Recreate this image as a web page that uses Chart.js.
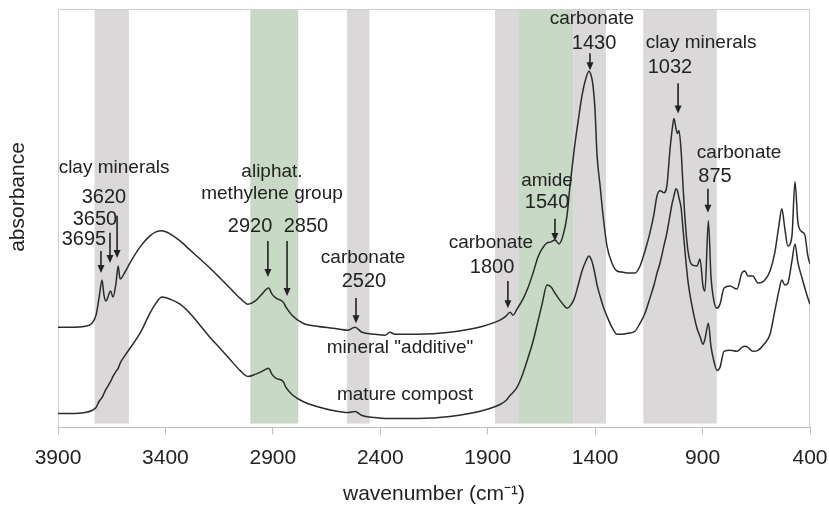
<!DOCTYPE html>
<html lang="en">
<head>
  <meta charset="UTF-8">
  <title>FTIR spectra – mineral additive vs. mature compost</title>
  <script src="https://cdn.jsdelivr.net/npm/chart.js"></script>
  <style>
    body { margin: 0; background: #fff; }
    #wrap { width: 829px; height: 507px; }
  </style>
</head>
<body>
  <div id="wrap"><canvas id="spectra" width="829" height="507"></canvas></div>

  <script>
    // wavenumbers (cm-1) shared by both spectra
    const wavenumber = [3900, 3844, 3774, 3742, 3723, 3709, 3695, 3686, 3677, 3655, 3644, 3630, 3620, 3611, 3588, 3565,
      3518, 3472, 3444, 3416, 3379, 3332, 3286, 3239, 3193, 3146, 3100, 3053, 3016, 2983, 2951, 2920, 2904, 2885,
      2852, 2839, 2811, 2760, 2695, 2620, 2550, 2518, 2485, 2425, 2378, 2355, 2332, 2229, 2076, 1922, 1843, 1815,
      1796, 1782, 1764, 1736, 1713, 1689, 1666, 1647, 1624, 1605, 1587, 1568, 1550, 1531, 1517, 1498, 1480, 1461,
      1443, 1429, 1419, 1410, 1401, 1391, 1377, 1363, 1345, 1322, 1298, 1275, 1247, 1215, 1191, 1168, 1145, 1126,
      1112, 1098, 1080, 1066, 1052, 1042, 1033, 1024, 1017, 1010, 1000, 991, 982, 968, 949, 926, 912, 898, 889,
      873, 861, 847, 833, 819, 800, 772, 740, 717, 703, 689, 666, 642, 614, 586, 564, 545, 531, 517, 503, 484,
      470, 456, 437, 424, 410, 400];

    // mineral "additive" (upper trace), arbitrary absorbance units with offset
    const additive = [96, 96, 97, 100, 108, 125, 143, 128, 122, 132, 126, 140, 157, 144, 151, 160,
      176, 187, 191, 192, 189, 182, 173, 164, 155, 145, 135, 125, 119, 122, 129, 135, 129, 125,
      121, 116, 108, 100, 97, 95, 93, 96, 91, 89, 88, 91, 89, 89, 91, 97, 103, 107,
      111, 108, 114, 124, 135, 150, 166, 174, 180, 181, 183, 179, 187, 207, 237, 272, 300, 327,
      344, 351, 347, 337, 314, 267, 237, 207, 177, 160, 152, 151, 150, 150, 157, 172, 190, 209,
      227, 232, 230, 237, 272, 292, 304, 294, 289, 292, 272, 237, 205, 172, 158, 157, 164, 137, 132,
      202, 147, 122, 115, 119, 135, 137, 134, 150, 152, 147, 147, 140, 142, 152, 170, 197, 214, 194, 177, 187,
      241, 200, 191, 188, 167, 159];

    // mature compost (lower trace)
    const compost = [10, 10, 11, 13, 16, 22, 26, 30, 34, 42, 47, 52, 55, 60, 68, 75,
      90, 110, 120, 126, 124, 119, 110, 98, 86, 75, 64, 53, 47, 49, 52, 55, 49, 45,
      42, 36, 29, 22, 17, 13, 11, 12, 8, 6, 5, 5, 5, 5, 7, 13, 19, 23,
      28, 31, 36, 50, 65, 82, 102, 119, 138, 136, 130, 124, 119, 115, 117, 124, 137, 152,
      162, 167, 164, 158, 149, 138, 127, 117, 107, 96, 89, 89, 90, 92, 100, 110, 125, 138,
      150, 160, 177, 190, 207, 219, 227, 234, 232, 225, 215, 194, 172, 142, 117, 95, 87, 79, 84,
      100, 77, 62, 53, 56, 72, 73, 72, 76, 77, 76, 72, 73, 79, 89, 112, 132, 143, 138, 140, 162,
      179, 160, 145, 135, 125, 119];

    const xTicks = [3900, 3400, 2900, 2400, 1900, 1400, 900, 400];

    // highlighted absorption regions [from, to] in cm-1
    const grayBands = [[3730, 3570], [2555, 2450], [1866, 1758], [1502, 1350], [1176, 834]];
    const greenBands = [[3005, 2782], [1758, 1502]];

    // peak markers: wavenumber, arrow from/to (absorbance units)
    const arrows = [
      [3700, 172, 150], [3658, 190, 160], [3625, 207, 165],
      [2923, 182, 146], [2834, 182, 127], [2513, 125, 100],
      [1806, 142, 115], [1587, 204, 182], [1424, 369, 352],
      [1014, 339, 309], [875, 234, 210]
    ];

    // text labels: text, wavenumber, absorbance, is number
    const labels = [
      ['clay minerals', 3639, 255, false], ['3620', 3686, 225, true], ['3650', 3728, 203, true], ['3695', 3779, 183, true],
      ['aliphat.', 2904, 251, false], ['methylene group', 2904, 229, false],
      ['2920', 3006, 196, true], ['2850', 2746, 196, true],
      ['carbonate', 2480, 165, false], ['2520', 2476, 142, true],
      ['mineral "additive"', 2308, 76, false], ['mature compost', 2285, 29, false],
      ['carbonate', 1885, 180, false], ['1800', 1880, 156, true],
      ['amide', 1624, 242, false], ['1540', 1624, 220, true],
      ['carbonate', 1415, 403, false], ['1430', 1405, 379, true],
      ['clay minerals', 907, 379, false], ['1032', 1052, 355, true],
      ['carbonate', 730, 270, false], ['875', 842, 246, true]
    ];

    const FONT = '"Liberation Sans", Arial, sans-serif';
    const INK = '#222';

    const toPoints = arr => wavenumber.map((w, i) => ({ x: w, y: arr[i] }));

    // shaded bands + frame behind the spectra, labels and arrows on top
    const decorations = {
      id: 'decorations',
      beforeDatasetsDraw(chart) {
        const { ctx, chartArea: a, scales: { x, y } } = chart;
        ctx.save();
        const band = ([from, to], color) => {
          const x1 = x.getPixelForValue(from), x2 = x.getPixelForValue(to);
          const yb = y.getPixelForValue(0);
          ctx.fillStyle = color;
          ctx.fillRect(x1, a.top, x2 - x1, yb - a.top);
        };
        grayBands.forEach(b => band(b, '#dbd8da'));
        greenBands.forEach(b => band(b, '#c8d9c5'));
        ctx.strokeStyle = '#cfcfcf';
        ctx.lineWidth = 1;
        ctx.beginPath();
        ctx.moveTo(a.left + 0.5, a.bottom);
        ctx.lineTo(a.left + 0.5, a.top + 0.5);
        ctx.lineTo(a.right - 0.5, a.top + 0.5);
        ctx.lineTo(a.right - 0.5, a.bottom);
        ctx.stroke();
        ctx.restore();
      },
      afterDatasetsDraw(chart) {
        const { ctx, scales: { x, y } } = chart;
        ctx.save();
        ctx.strokeStyle = INK;
        ctx.fillStyle = INK;
        ctx.lineWidth = 1.6;
        arrows.forEach(([w, from, to]) => {
          const px = x.getPixelForValue(w);
          const y1 = y.getPixelForValue(from), y2 = y.getPixelForValue(to);
          ctx.beginPath();
          ctx.moveTo(px, y1);
          ctx.lineTo(px, y2 - 6);
          ctx.stroke();
          ctx.beginPath();
          ctx.moveTo(px - 3.5, y2 - 8);
          ctx.lineTo(px + 3.5, y2 - 8);
          ctx.lineTo(px, y2);
          ctx.closePath();
          ctx.fill();
        });
        ctx.textAlign = 'center';
        ctx.textBaseline = 'middle';
        labels.forEach(([text, w, v, num]) => {
          ctx.font = (num ? '20px ' : '19px ') + FONT;
          ctx.fillText(text, x.getPixelForValue(w), y.getPixelForValue(v));
        });
        // vertical axis caption
        ctx.translate(18, 197);
        ctx.rotate(-Math.PI / 2);
        ctx.font = '21px ' + FONT;
        ctx.fillText('absorbance', 0, 0);
        ctx.restore();
      }
    };

    const line = (label, arr) => ({
      label,
      data: toPoints(arr),
      borderColor: '#2b2b2b',
      borderWidth: 1.5,
      pointRadius: 0,
      fill: false,
      cubicInterpolationMode: 'monotone'
    });

    new Chart(document.getElementById('spectra'), {
      type: 'line',
      data: {
        datasets: [line('mineral "additive"', additive), line('mature compost', compost)]
      },
      options: {
        responsive: false,
        animation: false,
        layout: { padding: { left: 58, right: 19, top: 9, bottom: 0 } },
        plugins: { legend: { display: false }, tooltip: { enabled: false } },
        scales: {
          x: {
            type: 'linear',
            reverse: true,
            min: 400,
            max: 3900,
            afterBuildTicks: axis => { axis.ticks = xTicks.map(v => ({ value: v })); },
            // end labels fit inside the layout padding already
            afterFit: axis => { axis.paddingLeft = 0; axis.paddingRight = 0; },
            grid: { drawOnChartArea: false, color: '#bdbdbd', tickLength: 7 },
            border: { color: '#bdbdbd' },
            ticks: {
              color: INK,
              padding: 11,
              maxRotation: 0,
              font: { family: FONT, size: 21 },
              callback: v => String(v)
            },
            title: {
              display: true,
              text: 'wavenumber (cm⁻¹)',
              color: INK,
              padding: { top: 0, bottom: 0 },
              font: { family: FONT, size: 21 }
            }
          },
          y: { display: false, min: -4, max: 413 }
        }
      },
      plugins: [decorations]
    });
  </script>
</body>
</html>
